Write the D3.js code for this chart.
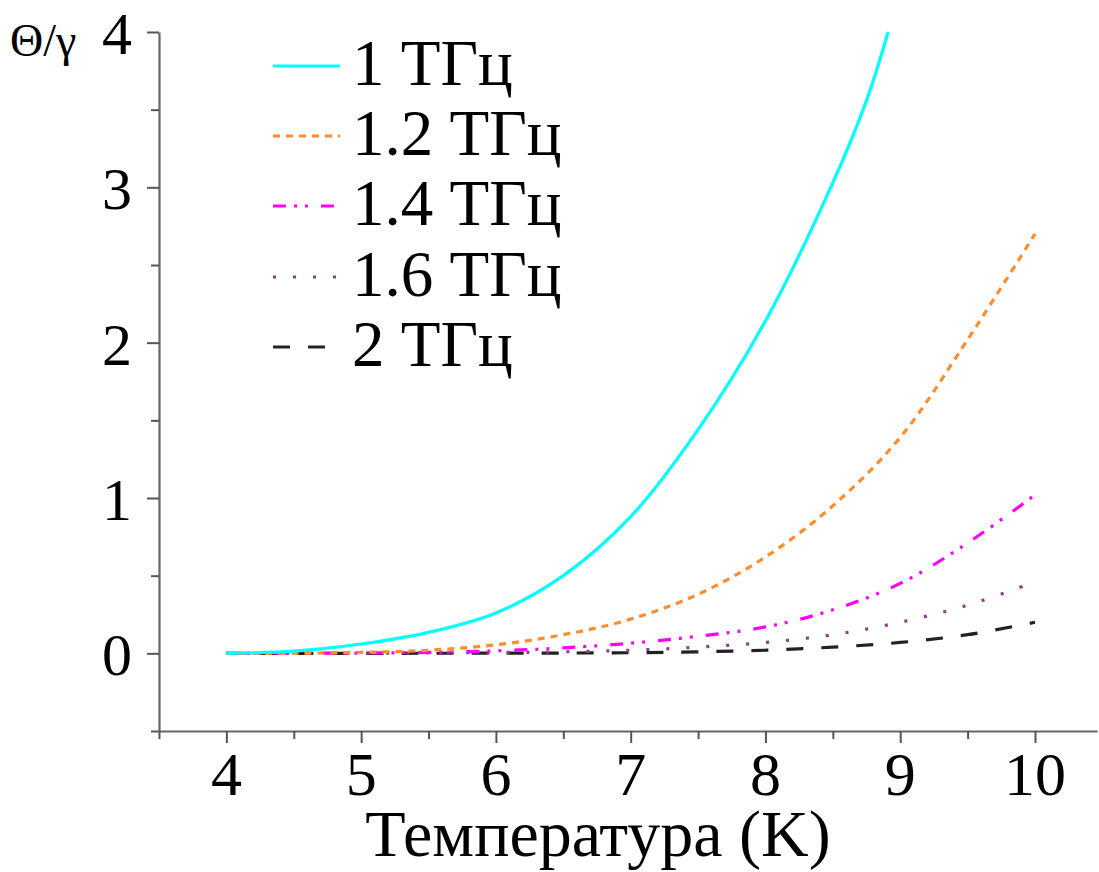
<!DOCTYPE html>
<html>
<head>
<meta charset="utf-8">
<script src="https://cdn.jsdelivr.net/npm/d3@7"></script>
<style>
  html, body { margin: 0; padding: 0; background: #fff; }
  svg text { font-family: "Liberation Serif", "Times New Roman", serif; fill: #000; }
</style>
</head>
<body>
<div id="chart"></div>
<script>
// values: temperature (K) -> Θ/γ
const series1 = [[4, 0], [4.5, 0.014], [5, 0.06], [5.5, 0.135], [6, 0.26], [6.5, 0.50], [7, 0.88], [7.5, 1.44], [8, 2.14], [8.5, 3.03], [8.75, 3.56], [8.91, 4.0]];
const series12 = [[4, 0], [4.5, 0.001], [5, 0.006], [5.5, 0.02], [6, 0.055], [6.5, 0.12], [7, 0.22], [7.5, 0.38], [8, 0.62], [8.5, 0.95], [9, 1.39], [9.5, 2.02], [10, 2.70]];
const series14 = [[4, 0], [5, 0.002], [5.5, 0.006], [6, 0.016], [6.5, 0.035], [7, 0.065], [7.5, 0.11], [8, 0.17], [8.5, 0.28], [9, 0.45], [9.5, 0.71], [10, 1.02]];
const series16 = [[4, 0], [5, 0.001], [6, 0.005], [6.5, 0.01], [7, 0.02], [7.5, 0.04], [8, 0.07], [8.5, 0.12], [9, 0.20], [9.5, 0.31], [10, 0.46]];
const series2 = [[4, 0], [6, 0.001], [7, 0.004], [7.5, 0.01], [8, 0.02], [8.5, 0.04], [9, 0.07], [9.5, 0.12], [10, 0.20]];

const labels = ["1 ТГц", "1.2 ТГц", "1.4 ТГц", "1.6 ТГц", "2 ТГц"];
const colors = ["#00ffff", "#ff8c2e", "#ff00ff", "#8e3a8e", "#222222"];
const dashes = ["none", "7,6", "13,8,3,8,3,13", "3,17", "17,18"];
const xTicks = [4, 5, 6, 7, 8, 9, 10];
const yTicks = [0, 1, 2, 3, 4];

const allSeries = [series1, series12, series14, series16, series2];

const width = 1099, height = 872;
const svg = d3.select("#chart").append("svg")
    .attr("width", width)
    .attr("height", height);

const x = d3.scaleLinear().domain([3.5, 10.46]).range([159, 1097]);
const y = d3.scaleLinear().domain([-0.5, 4]).range([731, 32]);

// axes: major ticks on whole numbers, minor on halves
const xAxis = svg.append("g")
    .attr("transform", `translate(0,${y(-0.5)})`)
    .call(d3.axisBottom(x).tickValues(d3.range(3.5, 10.5, 0.5))
        .tickSize(0).tickFormat(""));
xAxis.select(".domain").attr("stroke", "#666").attr("stroke-width", 2.2);
xAxis.selectAll(".tick line")
    .attr("stroke", "#555").attr("stroke-width", 2)
    .attr("y2", d => Number.isInteger(d) ? 12 : 8);

const xLabels = svg.append("g");
xLabels.selectAll("text").data(xTicks).enter().append("text")
    .attr("x", d => x(d))
    .attr("y", 795)
    .attr("text-anchor", "middle")
    .style("font-size", "62px")
    .text(d => d);

const yAxis = svg.append("g")
    .attr("transform", `translate(${x(3.5)},0)`)
    .call(d3.axisLeft(y).tickValues(d3.range(-0.5, 4.5, 0.5))
        .tickSize(0).tickFormat(""));
yAxis.select(".domain").attr("stroke", "#666").attr("stroke-width", 2.2);
yAxis.selectAll(".tick line")
    .attr("stroke", "#555").attr("stroke-width", 2)
    .attr("x2", d => Number.isInteger(d) ? -12 : -8);

const yLabels = svg.append("g");
yLabels.selectAll("text").data(yTicks).enter().append("text")
    .attr("x", 132)
    .attr("y", d => y(d) + 22)
    .attr("text-anchor", "end")
    .style("font-size", "60px")
    .text(d => d);

// curves
const line = d3.line()
    .x(d => x(d[0]))
    .y(d => y(d[1]))
    .curve(d3.curveCatmullRom.alpha(0.5));

// lowest first so the cyan ends up on top
svg.append("g").selectAll("path")
    .data(allSeries.map((s, i) => ({ s, i })).reverse())
    .enter().append("path")
    .attr("d", d => line(d.s))
    .attr("fill", "none")
    .attr("stroke", d => colors[d.i])
    .attr("stroke-width", 3.2)
    .attr("stroke-dasharray", d => dashes[d.i]);

// legend
const legend = svg.append("g");
const rowY = [85, 155, 225, 296, 366];
labels.forEach((lab, i) => {
    legend.append("line")
        .attr("x1", 273).attr("x2", i === 4 ? 327 : 340)
        .attr("y1", rowY[i] - 19).attr("y2", rowY[i] - 19)
        .attr("stroke", colors[i])
        .attr("stroke-width", 3.2)
        .attr("stroke-dasharray", dashes[i]);
    legend.append("text")
        .attr("x", 352)
        .attr("y", rowY[i])
        .style("font-size", "65px")
        .text(lab);
});

// axis titles
svg.append("text")
    .attr("x", 10)
    .attr("y", 56)
    .style("font-size", "46px")
    .text("Θ/γ");

svg.append("text")
    .attr("x", 598)
    .attr("y", 856)
    .attr("text-anchor", "middle")
    .style("font-size", "66px")
    .text("Температура (K)");
</script>
</body>
</html>
